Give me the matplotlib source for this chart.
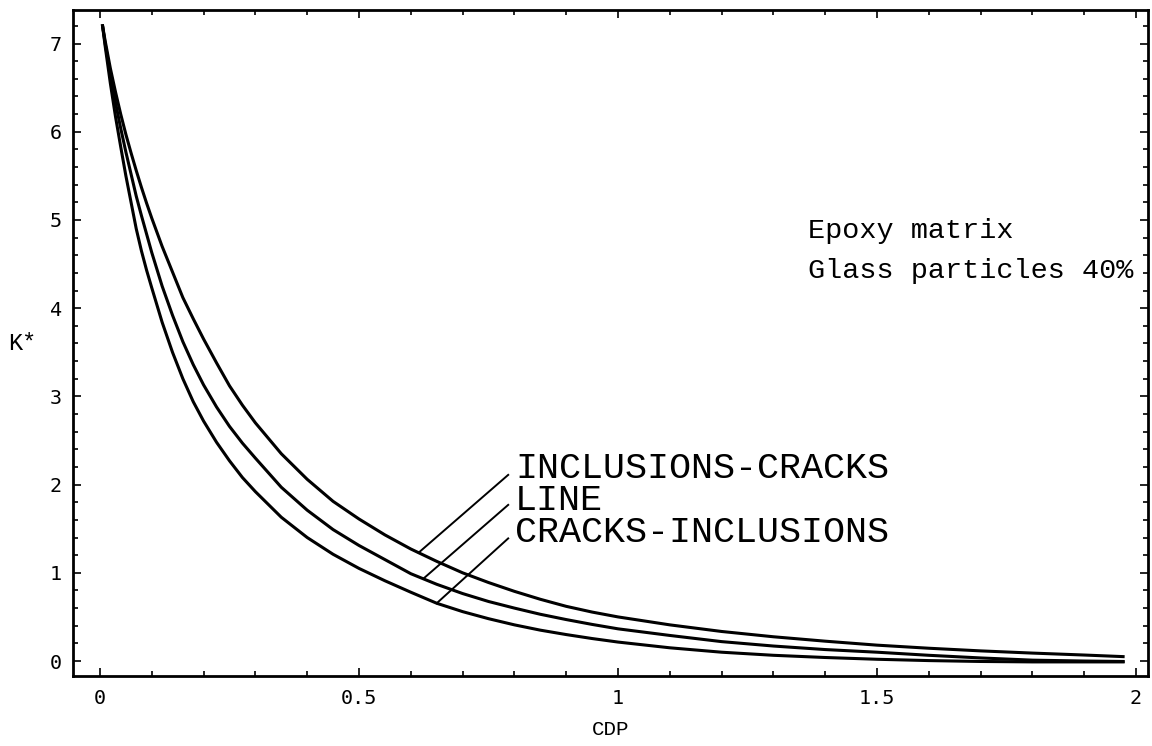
import numpy as np
import matplotlib.pyplot as plt
from matplotlib.ticker import MultipleLocator

# CDP values (shared grid) and K* for each curve
cdp = [0.005, 0.01, 0.02, 0.03, 0.04, 0.05, 0.06, 0.07, 0.08, 0.09, 0.10,
       0.12, 0.14, 0.16, 0.18, 0.20, 0.225, 0.25, 0.275, 0.30, 0.35, 0.40,
       0.45, 0.50, 0.55, 0.60, 0.65, 0.70, 0.75, 0.80, 0.85, 0.90, 0.95,
       1.00, 1.10, 1.20, 1.30, 1.40, 1.50, 1.60, 1.70, 1.80, 1.90, 1.975]
k_incl_cracks = [7.20, 7.03, 6.72, 6.45, 6.20, 5.97, 5.76, 5.56, 5.37, 5.19, 5.02,
                 4.70, 4.41, 4.12, 3.88, 3.65, 3.38, 3.12, 2.90, 2.70, 2.35, 2.06,
                 1.81, 1.61, 1.43, 1.27, 1.13, 1.00, 0.89, 0.79, 0.70, 0.62, 0.555,
                 0.50, 0.41, 0.335, 0.275, 0.225, 0.18, 0.145, 0.115, 0.09, 0.068, 0.05]
k_line = [7.20, 7.00, 6.65, 6.33, 6.04, 5.77, 5.52, 5.27, 5.05, 4.84, 4.63,
          4.25, 3.92, 3.62, 3.36, 3.13, 2.88, 2.66, 2.47, 2.30, 1.97, 1.71,
          1.49, 1.31, 1.15, 0.99, 0.87, 0.765, 0.675, 0.60, 0.53, 0.47, 0.415,
          0.365, 0.29, 0.22, 0.17, 0.13, 0.10, 0.065, 0.035, 0.01, 0.0, -0.005]
k_cracks_incl = [7.20, 6.97, 6.55, 6.17, 5.83, 5.50, 5.20, 4.90, 4.65, 4.43, 4.23,
                 3.84, 3.50, 3.20, 2.94, 2.72, 2.48, 2.27, 2.08, 1.92, 1.63, 1.40,
                 1.21, 1.05, 0.91, 0.78, 0.655, 0.56, 0.48, 0.41, 0.35, 0.30, 0.255,
                 0.215, 0.15, 0.10, 0.065, 0.04, 0.02, 0.005, -0.005, -0.01, -0.01, -0.01]

labels = ['INCLUSIONS-CRACKS', 'LINE', 'CRACKS-INCLUSIONS']
label_anchor_x = [0.615, 0.624, 0.650]   # where the leader touches the curve
label_y = [2.075, 1.71, 1.35]            # text baselines
leader_top = [2.11, 1.77, 1.39]

mono = 'Liberation Mono'

fig = plt.figure(figsize=(11.52, 7.46), dpi=100)
ax = fig.add_axes([0.0634, 0.0938, 0.9331, 0.8928])

curves = [k_incl_cracks, k_line, k_cracks_incl]
for k in curves:
    ax.plot(cdp, k, color='k', lw=2.2, solid_joinstyle='round')

# leaders + labels
for k, lab, xa, yl, yt in zip(curves, labels, label_anchor_x, label_y, leader_top):
    ya = np.interp(xa, cdp, k)
    ax.plot([xa, 0.788], [ya, yt], color='k', lw=1.4)
    ax.text(0.801, yl, lab, family=mono, fontsize=26.5, va='baseline', ha='left')

ax.text(1.367, 4.80, 'Epoxy matrix', family=mono, fontsize=20.5, va='baseline')
ax.text(1.367, 4.34, 'Glass particles 40%', family=mono, fontsize=20.5, va='baseline')

ax.set_xlim(-0.052, 2.023)
ax.set_ylim(-0.17, 7.38)

ax.xaxis.set_major_locator(MultipleLocator(0.5))
ax.xaxis.set_minor_locator(MultipleLocator(0.1))
ax.yaxis.set_major_locator(MultipleLocator(1))
ax.yaxis.set_minor_locator(MultipleLocator(0.2))
ax.set_xticks([0, 0.5, 1, 1.5, 2])
ax.set_xticklabels(['0', '0.5', '1', '1.5', '2'])

ax.tick_params(which='both', direction='in', top=True, right=True, width=1.2)
ax.tick_params(which='major', length=6)
ax.tick_params(which='minor', length=3.5)
ax.tick_params(axis='x', pad=9)
ax.tick_params(axis='y', pad=8)
for lab in ax.get_xticklabels() + ax.get_yticklabels():
    lab.set_family('DejaVu Sans Mono')
    lab.set_fontsize(14.5)

plt.setp(ax.spines.values(), linewidth=2)

ax.set_xlabel('CDP', family=mono, fontsize=15, labelpad=9)
ax.set_ylabel('K*', family=mono, fontsize=17, rotation=0, labelpad=20, va='center')

plt.savefig('out.png', dpi=100)
